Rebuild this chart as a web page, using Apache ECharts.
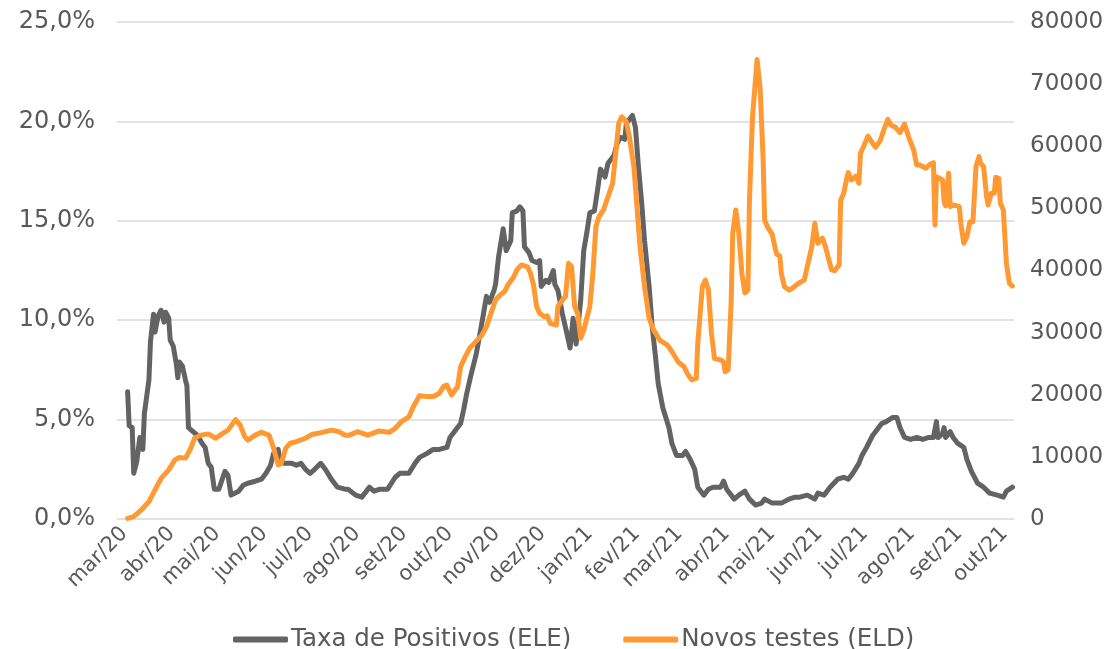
<!DOCTYPE html>
<html>
<head>
<meta charset="utf-8">
<script src="https://cdn.jsdelivr.net/npm/echarts@6/dist/echarts.min.js"></script>
<style>
html,body{margin:0;padding:0;background:#fff;}
#chart{width:1120px;height:649px;}
</style>
</head>
<body>
<div id="chart"></div>
<script>
// Days since 2020-03-01 and values
const seriesNames = ['Taxa de Positivos (ELE)', 'Novos testes (ELD)'];
const monthNames = ['jan','fev','mar','abr','mai','jun','jul','ago','set','out','nov','dez'];

const posDays = [7,8,10,11,13,15,17,18,21,22,24,25,27,29,31,32,34,35,37,39,40,41,43,45,46,47,50,53,56,58,60,62,64,67,71,73,75,80,83,86,91,95,98,101,103,106,107,110,115,118,121,124,127,130,134,137,141,145,150,152,157,161,164,166,169,173,178,183,186,192,196,199,204,208,212,217,219,222,226,228,230,233,236,238,241,243,245,248,249,251,254,256,259,260,263,265,267,268,271,273,276,278,279,282,284,287,288,290,293,296,298,300,302,305,307,309,311,314,316,318,321,323,327,329,331,334,335,339,341,343,345,347,350,352,354,356,359,363,365,368,372,374,377,380,382,386,389,392,397,399,401,406,409,413,416,420,424,426,431,437,442,446,449,454,459,461,465,469,474,478,481,484,488,490,493,497,500,503,506,510,513,515,518,522,526,530,534,537,539,540,543,544,545,548,550,553,557,559,562,566,570,574,579,583,585,589];
const posRate = [6.4,4.7,4.6,2.3,2.9,4.1,3.5,5.3,7.0,8.9,10.3,9.4,10.2,10.5,9.9,10.4,10.1,9.0,8.7,7.8,7.1,7.9,7.7,7.0,6.7,4.6,4.4,4.2,3.8,3.6,2.8,2.6,1.5,1.5,2.4,2.2,1.2,1.4,1.7,1.8,1.9,2.0,2.3,2.7,3.3,3.5,3.0,2.8,2.8,2.7,2.8,2.5,2.3,2.5,2.8,2.5,2.0,1.6,1.5,1.5,1.2,1.1,1.4,1.6,1.4,1.5,1.5,2.1,2.3,2.3,2.8,3.1,3.3,3.5,3.5,3.6,4.1,4.4,4.8,5.5,6.3,7.3,8.2,9.0,10.3,11.2,10.9,11.5,11.8,13.2,14.6,13.5,14.0,15.4,15.5,15.7,15.5,13.7,13.4,13.0,12.9,13.0,11.7,12.0,11.9,12.5,11.8,11.5,10.3,9.3,8.6,10.1,8.8,11.0,13.5,14.4,15.4,15.5,16.5,17.6,17.2,17.9,18.3,18.9,19.2,19.1,19.9,20.3,19.7,17.7,16.0,14.0,11.7,9.7,8.3,6.8,5.6,4.6,3.8,3.2,3.2,3.4,3.0,2.5,1.6,1.2,1.5,1.6,1.6,1.9,1.5,1.0,1.2,1.4,1.0,0.7,0.8,1.0,0.8,0.8,1.0,1.1,1.1,1.2,1.0,1.3,1.2,1.6,2.0,2.1,2.0,2.3,2.8,3.2,3.6,4.2,4.5,4.8,4.9,5.1,5.1,4.6,4.1,4.0,4.1,4.0,4.1,4.1,4.9,4.1,4.3,4.6,4.1,4.4,4.1,3.8,3.6,3.0,2.4,1.8,1.6,1.3,1.2,1.1,1.4,1.6];

const testDays = [7,11,16,21,25,29,34,38,41,45,48,51,55,60,65,69,73,78,81,84,86,91,95,100,103,106,108,111,114,118,124,128,135,141,146,150,153,158,165,172,179,183,187,192,195,199,204,208,212,215,217,220,224,226,229,232,236,240,243,246,249,252,255,257,261,263,266,270,272,274,276,278,281,283,285,289,290,293,295,297,299,301,303,305,307,311,313,315,317,320,323,326,328,330,332,335,337,340,342,344,347,350,353,357,362,365,369,373,375,378,381,382,385,387,389,391,393,397,399,400,402,404,405,407,409,411,413,415,416,418,421,423,425,426,428,431,433,434,436,437,439,442,444,447,449,452,454,456,457,459,461,464,466,468,470,472,475,476,478,480,481,483,486,488,489,491,494,497,499,502,504,507,509,512,515,518,521,524,526,528,532,535,537,538,539,543,544,545,547,548,550,554,555,557,559,561,563,565,567,568,570,572,573,575,577,578,580,581,583,584,585,587,589];
const newTests = [100,370,1450,2800,4700,6550,7900,9500,9900,9800,11100,13000,13500,13700,13000,13700,14300,16000,15100,13250,12700,13500,13950,13500,11400,8700,8950,11400,12200,12450,13000,13600,13950,14300,14050,13500,13500,14050,13500,14150,13950,14600,15650,16450,18100,19850,19700,19700,20250,21400,21550,19950,21300,24500,26100,27500,28550,29600,30950,33100,35250,36050,36600,37650,39000,40100,40900,40600,39550,37650,34200,33100,32550,32700,31500,31200,34200,35250,35800,41150,40600,34200,33100,29100,30400,34200,39550,47050,48650,49750,51900,54050,58850,63700,64750,63950,61550,56700,50250,43800,37400,32300,30400,28800,28000,26950,25300,24500,23450,22400,22650,28300,37400,38450,36850,29900,25850,25600,25300,23700,24000,35250,46000,49750,46000,39550,36400,36850,51350,64750,73950,69450,57900,48100,46950,45800,43480,42600,42300,39450,37400,36850,37100,37700,38050,38450,40600,42750,43800,47600,44380,45200,43800,41950,40100,39970,40900,51350,52430,54850,55750,54570,55200,54050,58870,59930,61650,60480,59830,60900,62350,64330,63420,63050,62180,63580,61280,59400,56980,56980,56450,57150,57350,47330,55100,54570,51080,50390,55650,50280,50550,50280,47600,44380,45450,47860,47860,56720,58330,57260,56720,51880,50550,52430,52430,55000,54840,50820,49740,45450,41160,37940,37500];

const dayToTime = d => new Date(2020, 2, 1 + d).getTime();
const posData = posDays.map((d, i) => [dayToTime(d), posRate[i]]);
const testData = testDays.map((d, i) => [dayToTime(d), newTests[i]]);

const FONT = 'DejaVu Sans';
const TXT = '#595959';

const chart = echarts.init(document.getElementById('chart'), null, {renderer: 'canvas'});
chart.setOption({
  animation: false,
  backgroundColor: '#ffffff',
  textStyle: {fontFamily: FONT, color: TXT},
  grid: {left: 117, right: 106, top: 22, bottom: 130, containLabel: false},
  legend: {
    top: 622, left: 228,
    itemWidth: 55, itemHeight: 6, itemGap: 52,
    icon: 'roundRect',
    textStyle: {fontFamily: FONT, fontSize: 24.5, color: TXT, padding: [0, 0, 0, -2]},
    data: seriesNames
  },
  xAxis: {
    type: 'time',
    min: dayToTime(0),
    max: dayToTime(590),
    minInterval: 28 * 86400000,
    maxInterval: 31 * 86400000,
    axisLine: {show: false},
    axisTick: {show: false},
    splitLine: {show: false},
    axisLabel: {
      rotate: 45, fontFamily: FONT, fontSize: 21, color: TXT, margin: 4,
      verticalAlign: 'top',
      hideOverlap: false, showMaxLabel: false, showMinLabel: true,
      formatter: v => {
        const dt = new Date(v);
        return monthNames[dt.getMonth()] + '/' + String(dt.getFullYear()).slice(2);
      }
    }
  },
  yAxis: [
    {
      type: 'value', min: 0, max: 25, interval: 5, position: 'left',
      axisLine: {show: false}, axisTick: {show: false},
      splitLine: {lineStyle: {color: '#d9d9d9', width: 1.5}},
      axisLabel: {
        fontFamily: FONT, fontSize: 24, color: TXT, margin: 22,
        formatter: v => v.toFixed(1).replace('.', ',') + '%'
      }
    },
    {
      type: 'value', min: 0, max: 80000, interval: 10000, position: 'right',
      axisLine: {show: false}, axisTick: {show: false},
      splitLine: {show: false},
      axisLabel: {fontFamily: FONT, fontSize: 23, color: TXT, margin: 16,
        formatter: v => String(v)}
    }
  ],
  series: [
    {
      name: seriesNames[0], type: 'line', yAxisIndex: 0,
      data: posData, showSymbol: false, symbol: 'none',
      lineStyle: {color: '#636363', width: 5, cap: 'round', join: 'round'},
      itemStyle: {color: '#636363'}
    },
    {
      name: seriesNames[1], type: 'line', yAxisIndex: 1,
      data: testData, showSymbol: false, symbol: 'none',
      lineStyle: {color: '#FF9933', width: 5, cap: 'round', join: 'round'},
      itemStyle: {color: '#FF9933'}
    }
  ]
});
</script>
</body>
</html>
